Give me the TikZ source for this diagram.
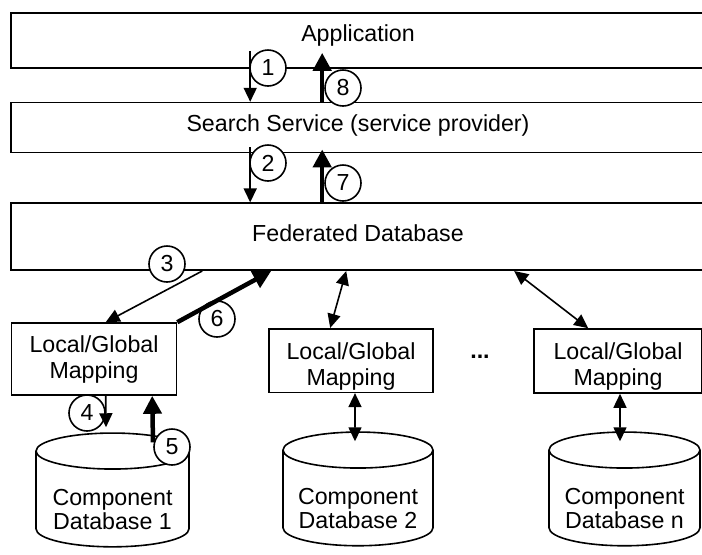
\documentclass[tikz,border=0pt]{standalone}
\usepackage{fontspec}
\setmainfont{Liberation Sans}
\usetikzlibrary{arrows.meta, positioning, shapes.geometric}

\begin{document}
\begin{tikzpicture}[
  x=0.5pt, y=-0.5pt,
  font=\fontsize{11.6}{13}\selectfont,
  box/.style={
    draw,
    line width=0.8pt,
    align=center,
    inner sep=0pt
  },
  layer/.style={
    box,
    minimum width=347pt
  },
  db/.style={
    draw,
    line width=0.8pt,
    cylinder,
    shape border rotate=90,
    aspect=0.27,
    align=center,
    font=\fontsize{11.6}{12}\selectfont,
    text height=26.5pt,
    text depth=0pt,
    minimum height=50pt
  },
  num/.style={
    circle,
    draw,
    fill=white,
    line width=0.8pt,
    minimum size=18pt,
    inner sep=0pt
  },
  arrow/.style={-{Triangle[length=7pt,width=6.5pt]}, line width=0.8pt},
  bigarrow/.style={-{Triangle[length=9pt,width=9pt]}, line width=2.25pt},
  twoway/.style={{Triangle[length=7pt,width=6.5pt]}-{Triangle[length=7pt,width=6.5pt]}, line width=0.8pt}
]
\useasboundingbox (0,0) rectangle (702,554);

% --- Layers ---
\node[layer, text height=14.35pt, text depth=13.15pt] (app) at (358,40.5) {Application};
\node[layer, text height=14.5pt, text depth=10.5pt, below=16.5pt of app] (search)
{Search Service (service provider)};
\node[layer, text height=19pt, text depth=14.5pt, below=24.5pt of search] (fed)
{Federated Database};

% --- Mappings ---
\node[box, minimum width=82.5pt, minimum height=36pt] (lgm1) at (94,359) {Local/Global\\ Mapping};
\node[box, minimum width=82pt, text height=28.4pt, text depth=3.4pt] (lgm2) at (351,360.5)
{Local/Global\\ Mapping};
\node[box, minimum width=84pt, text height=28.4pt, text depth=3.6pt] (lgmn) at (618,361)
{Local/Global\\ Mapping};
\node[font=\fontsize{11.6}{13}\selectfont\bfseries] (dots) at (480,357) {...};

% --- Component databases ---
\node[db, minimum width=76.5pt] (cdb1) at (112.5,503) {Component\\ Database 1};
\node[db, minimum width=75pt] (cdb2) at (358,502) {Component\\ Database 2};
\node[db, minimum width=75.5pt] (cdbn) at (624.5,502) {Component\\ Database n};

% --- Step numbers ---
\node[num] (n1) at (268,68) {1};
\node[num] (n2) at (268,163) {2};
\node[num] (n3) at (167,264) {3};
\node[num] (n4) at (87,413) {4};
\node[num] (n5) at (172,447) {5};
\node[num] (n6) at (217,319) {6};
\node[num] (n7) at (343,183) {7};
\node[num] (n8) at (343,88) {8};

% --- Request ---
\draw[arrow] ([xshift=120pt,yshift=9pt]app.south west) -- ([xshift=120pt]search.north west);
\draw[arrow] ([xshift=120pt,yshift=3pt]search.south west) -- ([xshift=120pt]fed.north west);
\draw[arrow] ([xshift=96pt]fed.south west) -- ([xshift=47.5pt]lgm1.north west);
\draw[arrow] ([xshift=47.5pt]lgm1.south west) -- ([xshift=-3.25pt,yshift=2.5pt]cdb1.north);

% --- Response ---
\draw[bigarrow] ([xshift=20.25pt,yshift=-5pt]cdb1.north) -- ([xshift=70.75pt]lgm1.south west);
\draw[bigarrow] (lgm1.north east) -- ([xshift=130.5pt]fed.south west);
\draw[bigarrow] ([xshift=156pt]fed.north west) -- ([xshift=156pt,yshift=2pt]search.south west);
\draw[bigarrow] ([xshift=156pt]search.north west) -- ([xshift=156pt,yshift=8pt]app.south west);

% --- Other components ---
\draw[twoway] ([xshift=168pt]fed.south west) -- ([xshift=31pt]lgm2.north west);
\draw[twoway] ([xshift=252pt]fed.south west) -- ([xshift=27.5pt]lgmn.north west);
\draw[twoway] ([xshift=2pt]lgm2.south) -- ([xshift=-1.5pt,yshift=-5pt]cdb2.north);
\draw[twoway] ([xshift=1pt]lgmn.south) -- ([xshift=-2.25pt,yshift=-5pt]cdbn.north);

\end{tikzpicture}
\end{document}
